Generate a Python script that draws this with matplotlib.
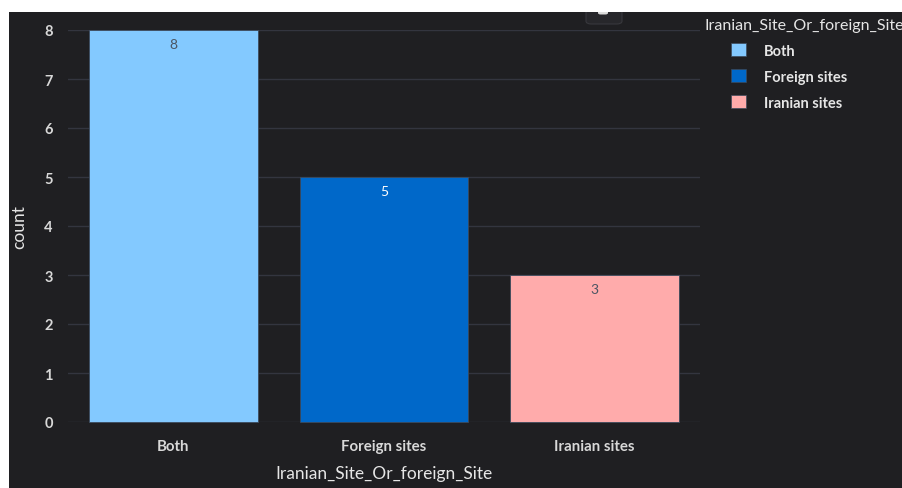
import matplotlib
matplotlib.use("Agg")
import matplotlib.pyplot as plt
from matplotlib.patches import Rectangle, FancyBboxPatch, Patch

categories = ["Both", "Foreign sites", "Iranian sites"]
counts = [8, 5, 3]
bar_colors = ["#83c9ff", "#0068c9", "#ffabab"]
label_colors = ["#4b5563", "#ffffff", "#4b5563"]
y_ticks = [0, 1, 2, 3, 4, 5, 6, 7, 8]
legend_title = "Iranian_Site_Or_foreign_Site"

BG = "#1f1f22"
GRID = "#33353f"
TEXT = "#e6e6e6"
FONT = ["Lato", "DejaVu Sans"]
plt.rcParams["font.family"] = FONT

W, H = 903, 489
fig = plt.figure(figsize=(W / 100, H / 100), dpi=100, facecolor=BG)

def px(x0, y0, w, h):
    """Figure-fraction rectangle from pixel box (origin top-left)."""
    return (x0 / W, 1 - (y0 + h) / H, w / W, h / H)

# plot area
ax = fig.add_axes(px(68, 31, 632, 392))
ax.set_facecolor(BG)
x = list(range(len(categories)))
bars = ax.bar(x, counts, width=0.8, color=bar_colors,
              edgecolor="#3c4a5c", linewidth=0.6, zorder=3)
for b in bars:
    b.set_clip_on(False)
ax.set_xlim(-0.5, len(categories) - 0.5)
ax.set_ylim(0, 8)
ax.set_yticks(y_ticks)
ax.set_xticks(x)
ax.set_xticklabels(categories)
ax.grid(axis="y", color=GRID, linewidth=1, zorder=0)
ax.set_axisbelow(True)
for s in ax.spines.values():
    s.set_visible(False)
ax.tick_params(axis="both", length=0, colors=TEXT)
ax.tick_params(axis="y", pad=11, labelsize=10.5)
ax.tick_params(axis="x", pad=12, labelsize=10.8)
for lbl in ax.get_yticklabels() + ax.get_xticklabels():
    lbl.set_fontweight("bold")
    lbl.set_color("#d8d8d8")

ax.set_xlabel(legend_title, color=TEXT, fontsize=12.5, labelpad=9)
ax.set_ylabel("count", color=TEXT, fontsize=12.5, labelpad=12)

# value labels inside the top of each bar
for xi, v, c in zip(x, counts, label_colors):
    ax.annotate(str(v), (xi, v), xytext=(0, -6), textcoords="offset points",
                ha="center", va="top", fontsize=10, color=c, zorder=5)

# legend
fig.text(704 / W, 1 - 26 / H, legend_title, color=TEXT, fontsize=11.5,
         ha="left", va="center")
handles = [Patch(facecolor=c, edgecolor="#3c4a5c", linewidth=0.5)
           for c in bar_colors]
leg = fig.legend(handles, categories, loc="upper left",
                 bbox_to_anchor=(731 / W, 1 - 44 / H), frameon=False,
                 fontsize=10.5, handlelength=1.0, handleheight=1.0,
                 handletextpad=1.25, labelspacing=0.8, borderpad=0,
                 borderaxespad=0)
for t in leg.get_texts():
    t.set_color(TEXT)
    t.set_fontweight("bold")

# toolbar button peeking in at the top
fig.patches.append(FancyBboxPatch((586 / W, 1 - 25 / H), 36 / W, 20 / H,
                                  boxstyle="round,pad=0,rounding_size=0.006",
                                  transform=fig.transFigure, facecolor="#27272b",
                                  edgecolor="#38383d", linewidth=0.8, zorder=1))
fig.patches.append(FancyBboxPatch((598 / W, 1 - 15.5 / H), 10 / W, 5 / H,
                                  boxstyle="round,pad=0,rounding_size=0.003",
                                  transform=fig.transFigure, facecolor="#dcdcdc",
                                  edgecolor="none", zorder=2))

# page margins
fig.patches.append(Rectangle((0, 1 - 13 / H), 1, 13 / H,
                             transform=fig.transFigure, facecolor="white",
                             edgecolor="none", zorder=10))
fig.patches.append(Rectangle((0, 0), 9 / W, 1,
                             transform=fig.transFigure, facecolor="white",
                             edgecolor="none", zorder=10))

fig.savefig("out.png", dpi=100, facecolor=BG)
